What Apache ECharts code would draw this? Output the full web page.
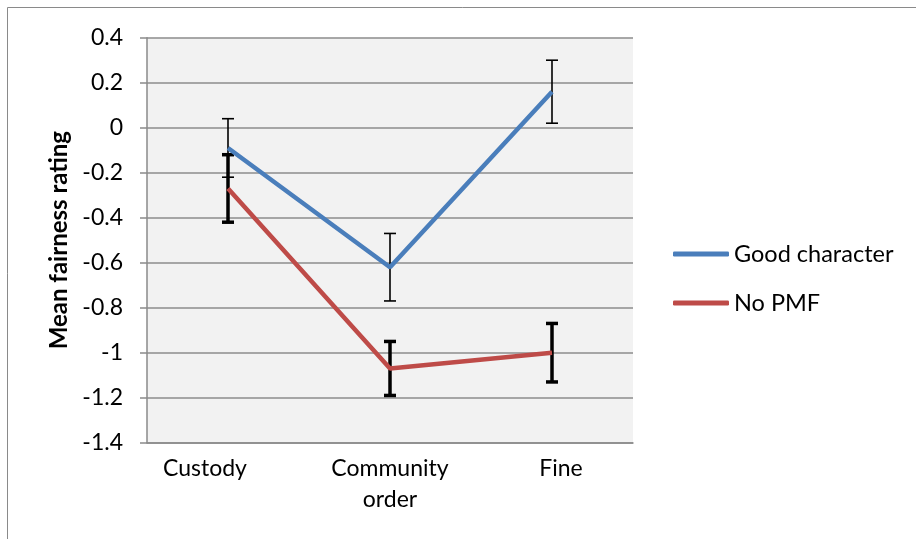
<!DOCTYPE html>
<html>
<head>
<meta charset="utf-8">
<script src="https://cdn.jsdelivr.net/npm/echarts@6/dist/echarts.min.js"></script>
<style>html,body{margin:0;padding:0;background:#fff;}#c{width:916px;height:539px;}</style>
</head>
<body>
<div id="c"></div>
<script>
var categories = ['Custody', 'Community\norder', 'Fine'];
var goodCharacter = [-0.09, -0.62, 0.16];
var goodCharacterErr = [0.13, 0.15, 0.14];
var noPMF = [-0.27, -1.07, -1.00];
var noPMFErr = [0.15, 0.12, 0.13];
var yMin = -1.4, yMax = 0.4, yStep = 0.2;

var FONT = 'Lato, "Open Sans", sans-serif';
var chart = echarts.init(document.getElementById('c'), null, {renderer: 'canvas'});

function errData(vals, errs) {
  return vals.map(function (v, i) { return [i, v - errs[i], v + errs[i]]; });
}
function errRender(width) {
  return function (params, api) {
    var x = api.value(0);
    var lo = api.coord([x, api.value(1)]);
    var hi = api.coord([x, api.value(2)]);
    var hw = 6;
    var st = {stroke: '#000', lineWidth: width};
    return {
      type: 'group',
      children: [
        {type: 'line', shape: {x1: lo[0], y1: lo[1], x2: hi[0], y2: hi[1]}, style: st},
        {type: 'line', shape: {x1: lo[0] - hw, y1: lo[1], x2: lo[0] + hw, y2: lo[1]}, style: st},
        {type: 'line', shape: {x1: hi[0] - hw, y1: hi[1], x2: hi[0] + hw, y2: hi[1]}, style: st}
      ]
    };
  };
}
var labStyle = {fontFamily: FONT, fontSize: 23, color: '#000', lineHeight: 31};
var labelStyles = ['l', 'm', 'r'];

chart.setOption({
  animation: false,
  graphic: [{
    type: 'rect', shape: {x: 7.5, y: 7.5, width: 1000, height: 1000},
    style: {fill: 'none', stroke: '#8a8a8a', lineWidth: 1}, z: 0
  }],
  grid: {left: 147, top: 37.7, right: 283, bottom: 96.3, show: true, backgroundColor: '#f2f2f2', borderWidth: 0},
  legend: {
    orient: 'vertical', left: 673, top: 242, padding: 0, itemWidth: 56, itemHeight: 5, itemGap: 25,
    textStyle: {fontFamily: FONT, fontSize: 23.5, color: '#000'},
    data: [{name: 'Good character', icon: 'roundRect'}, {name: 'No PMF', icon: 'roundRect'}]
  },
  xAxis: {
    type: 'category', data: categories, boundaryGap: true,
    axisLine: {onZero: false, lineStyle: {color: '#8a8a8a', width: 1.5}},
    axisTick: {show: false},
    axisLabel: {fontFamily: FONT, fontSize: 23, color: '#000', margin: 10, lineHeight: 31, interval: 0,
      formatter: function (v, i) {
        var s = labelStyles[i] || 'm';
        return v.split('\n').map(function (t) { return '{' + s + '|' + t + '}'; }).join('\n');
      },
      rich: {
        l: Object.assign({padding: [0, 46, 0, 0]}, labStyle),
        m: Object.assign({}, labStyle),
        r: Object.assign({padding: [0, 0, 0, 18]}, labStyle)
      }
    }
  },
  yAxis: {
    type: 'value', min: yMin, max: yMax, interval: yStep,
    name: 'Mean fairness rating', nameLocation: 'middle', nameGap: 76, nameRotate: 90,
    nameTextStyle: {fontFamily: FONT, fontSize: 24, fontWeight: 'bold', color: '#000'},
    axisLine: {show: true, lineStyle: {color: '#8a8a8a', width: 1.5}},
    axisTick: {show: true, length: 7, lineStyle: {color: '#8a8a8a', width: 1.5}},
    axisLabel: {fontFamily: FONT, fontSize: 23, color: '#000', margin: 24,
      formatter: function (v) { return String(Math.round(v * 10) / 10); }},
    splitLine: {show: true, lineStyle: {color: '#8c8c8c', width: 1.5}}
  },
  series: [
    {type: 'custom', name: 'gcErr', data: errData(goodCharacter, goodCharacterErr), renderItem: errRender(1.6), z: 3, silent: true},
    {type: 'custom', name: 'npErr', data: errData(noPMF, noPMFErr), renderItem: errRender(3.5), z: 3, silent: true},
    {type: 'line', name: 'Good character', data: goodCharacter, symbol: 'none', z: 4,
      lineStyle: {color: '#4a7ebb', width: 4.5}, itemStyle: {color: '#4a7ebb'}},
    {type: 'line', name: 'No PMF', data: noPMF, symbol: 'none', z: 4,
      lineStyle: {color: '#be4b48', width: 4.5}, itemStyle: {color: '#be4b48'}}
  ]
});
</script>
</body>
</html>
